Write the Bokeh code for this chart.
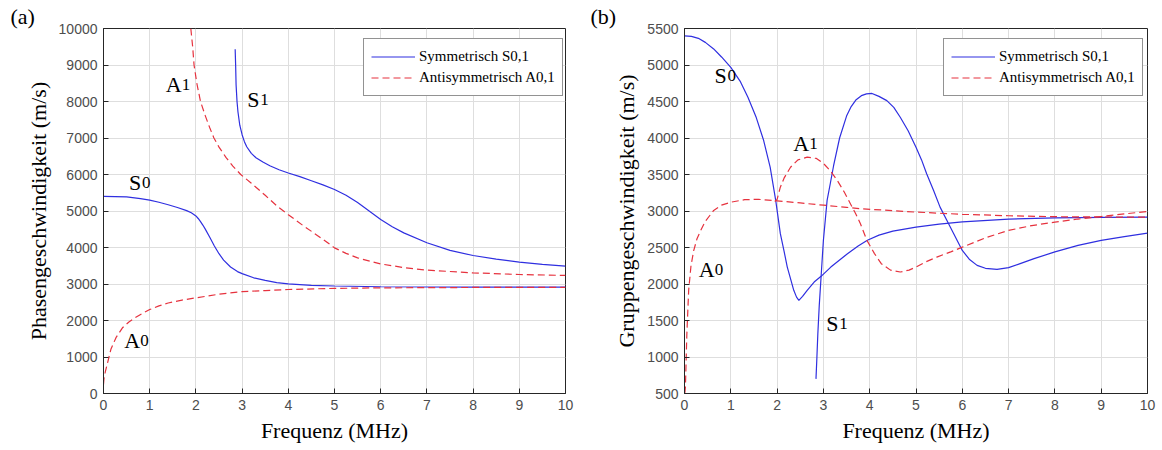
from bokeh.plotting import figure
from bokeh.layouts import row
from bokeh.models import (Range1d, FixedTicker, Legend, LegendItem,
                          ColumnDataSource, Title)
from bokeh.core.properties import value
from bokeh.embed import file_html
from bokeh.resources import INLINE

# ---------------- data ----------------
freq_ticks = [0, 1, 2, 3, 4, 5, 6, 7, 8, 9, 10]
phase_ticks = [0, 1000, 2000, 3000, 4000, 5000, 6000, 7000, 8000, 9000, 10000]
group_ticks = [500, 1000, 1500, 2000, 2500, 3000, 3500, 4000, 4500, 5000, 5500]

# (a) Phasengeschwindigkeit
s0_phase_f = [0, 0.5, 0.8, 1.0, 1.2, 1.4, 1.6, 1.8, 1.9, 2.0, 2.05, 2.1, 2.15, 2.2, 2.3, 2.4, 2.5,
              2.6, 2.75, 2.9, 3.0, 3.25, 3.5, 3.75, 4.0, 4.5, 5.0, 6.0, 7.0, 8.0, 10.0]
s0_phase_v = [5400, 5385, 5340, 5300, 5240, 5170, 5095, 5010, 4950, 4865, 4795, 4710, 4615, 4510, 4280,
              4040, 3830, 3655, 3465, 3340, 3285, 3170, 3100, 3040, 3005, 2965, 2945, 2925, 2918, 2915, 2912]

a0_phase_f = [0, 0.01, 0.04, 0.08, 0.16, 0.27, 0.41, 0.55, 0.7, 0.85, 1.0, 1.2, 1.4, 1.7, 2.0,
              2.5, 3.0, 3.5, 4.0, 5.0, 6.0, 7.0, 8.0, 9.0, 10.0]
a0_phase_v = [250, 400, 600, 800, 1210, 1530, 1800, 1960, 2090, 2200, 2300, 2400, 2480, 2560, 2620,
              2720, 2790, 2820, 2850, 2880, 2895, 2900, 2905, 2905, 2905]

s1_phase_f = [2.85, 2.86, 2.87, 2.89, 2.91, 2.95, 3.0, 3.05, 3.1, 3.2, 3.3, 3.45, 3.6, 3.8, 4.0,
              4.25, 4.5, 4.75, 5.0, 5.25, 5.5, 5.75, 6.0, 6.25, 6.5, 7.0, 7.5, 8.0, 8.5, 9.0, 9.5, 10.0]
s1_phase_v = [9430, 9000, 8450, 8000, 7720, 7350, 7090, 6900, 6760, 6580, 6460, 6340, 6240, 6130, 6040,
              5940, 5830, 5715, 5590, 5430, 5230, 5000, 4770, 4570, 4400, 4130, 3920, 3780, 3680, 3600,
              3540, 3490]

a1_phase_f = [1.89, 1.93, 1.96, 2.02, 2.1, 2.2, 2.3, 2.39, 2.5, 2.65, 2.8, 2.97, 3.2, 3.5, 3.76,
              4.0, 4.3, 4.55, 4.8, 5.0, 5.25, 5.5, 6.0, 6.5, 7.0, 8.0, 9.0, 10.0]
a1_phase_v = [10000, 9500, 9000, 8500, 8000, 7620, 7280, 7000, 6750, 6470, 6230, 6000, 5760, 5430, 5130,
              4900, 4620, 4400, 4180, 3990, 3840, 3715, 3550, 3450, 3380, 3305, 3260, 3235]

# (b) Gruppengeschwindigkeit
s0_group_f = [0, 0.15, 0.3, 0.45, 0.63, 0.8, 1.0, 1.2, 1.37, 1.55, 1.71, 1.85, 1.97, 2.07, 2.15,
              2.22, 2.3, 2.36, 2.42, 2.47, 2.55, 2.65, 2.8, 2.95, 3.16, 3.35, 3.52, 3.75, 3.95,
              4.2, 4.5, 5.0, 5.5, 6.0, 7.0, 8.0, 9.0, 10.0]
s0_group_v = [5400, 5392, 5365, 5310, 5220, 5110, 4968, 4780, 4558, 4280, 3965, 3600, 3145, 2689, 2450,
              2232, 2050, 1913, 1820, 1776, 1830, 1913, 2027, 2105, 2232, 2330, 2415, 2520, 2600,
              2670, 2725, 2780, 2820, 2850, 2890, 2907, 2912, 2916]

s1_group_f = [2.84, 2.86, 2.88, 2.91, 2.95, 3.0, 3.08, 3.15, 3.22, 3.35, 3.5, 3.6, 3.7, 3.82, 3.93,
              4.05, 4.2, 4.37, 4.52, 4.66, 4.83, 5.0, 5.12, 5.23, 5.38, 5.52, 5.74, 6.0, 6.15, 6.32,
              6.5, 6.75, 7.0, 7.25, 7.55, 8.0, 8.5, 9.0, 9.5, 10.0]
s1_group_v = [700, 1000, 1320, 1700, 2100, 2600, 3145, 3380, 3620, 4000, 4300, 4430, 4520, 4580, 4605,
              4610, 4570, 4512, 4420, 4284, 4100, 3873, 3700, 3510, 3280, 3053, 2780, 2460, 2340, 2255,
              2215, 2200, 2224, 2280, 2347, 2440, 2530, 2597, 2650, 2697]

a0_group_f = [0, 0.01, 0.02, 0.05, 0.09, 0.14, 0.2, 0.27, 0.35, 0.45, 0.63, 0.8, 1.0, 1.3, 1.6,
              2.0, 2.5, 3.0, 3.5, 3.8, 4.5, 5.0, 6.0, 7.0, 8.0, 9.0, 10.0]
a0_group_v = [500, 520, 590, 1300, 1913, 2250, 2460, 2620, 2734, 2860, 3007, 3080, 3121, 3155, 3160,
              3140, 3110, 3080, 3050, 3031, 3005, 2985, 2955, 2935, 2922, 2918, 2916]

a1_group_f = [1.95, 2.0, 2.07, 2.15, 2.29, 2.45, 2.65, 2.85, 3.01, 3.15, 3.3, 3.45, 3.6, 3.7, 3.8,
              3.94, 4.1, 4.25, 4.45, 4.66, 4.85, 5.0, 5.2, 5.45, 5.75, 6.0, 6.54, 7.0, 7.5, 8.0,
              8.5, 9.0, 9.5, 10.0]
a1_group_v = [3130, 3160, 3326, 3450, 3600, 3700, 3737, 3720, 3646, 3550, 3418, 3260, 3080, 2960, 2825,
              2597, 2420, 2278, 2190, 2164, 2190, 2232, 2300, 2369, 2440, 2505, 2642, 2734, 2800, 2848,
              2890, 2925, 2960, 2994]

# mode labels (letter + index), positioned in data units
phase_lbl_letter = ["S", "A", "S", "A"]
phase_lbl_digit = ["0", "1", "1", "0"]
phase_lbl_f = [0.55, 1.35, 3.11, 0.45]
phase_lbl_v = [5593, 8270, 7855, 1257]

group_lbl_letter = ["S", "A", "S", "A"]
group_lbl_digit = ["0", "1", "1", "0"]
group_lbl_f = [0.65, 2.35, 3.06, 0.31]
group_lbl_v = [4763, 3828, 1366, 2105]

legend_sym = "Symmetrisch S0,1"
legend_anti = "Antisymmetrisch A0,1"

# ---------------- style ----------------
BLUE = "#2f2fe0"
RED = "#e6323e"
SERIF = "Liberation Serif"
SANS = "Liberation Sans"
AX = "#262626"
GRID = "#dedede"
LETTER_W = {"S": 13, "A": 16}


def style_axis(ax, ticks):
    ax.ticker = FixedTicker(ticks=ticks)
    ax.axis_line_color = AX
    ax.major_tick_line_color = AX
    ax.major_tick_in = 5
    ax.major_tick_out = 0
    ax.minor_tick_line_color = None
    ax.major_label_text_font = SANS
    ax.major_label_text_color = "#4d4d4d"
    ax.major_label_text_font_size = "14px"
    ax.major_label_standoff = 6
    ax.axis_label_text_font = SERIF
    ax.axis_label_text_font_style = "normal"
    ax.axis_label_text_font_size = "22px"
    ax.axis_label_text_color = "black"
    ax.axis_label_standoff = 5


def build(y0, y1, y_ticks, y_label, curves, lbl, panel_text, panel_offset,
          legend_xy, frame_w, frame_h, b_left, b_top):
    width = 581
    title = Title(text=panel_text, align="left", offset=panel_offset, standoff=0,
                  text_font=SERIF, text_font_size="22px", text_font_style="normal",
                  text_color="black")
    p = figure(width=width, height=450, title=title,
               x_range=Range1d(0, 10), y_range=Range1d(y0, y1),
               output_backend="svg", toolbar_location=None,
               min_border_left=b_left, min_border_right=width - b_left - frame_w,
               min_border_top=b_top, min_border_bottom=450 - b_top - frame_h)
    p.outline_line_color = AX
    p.outline_line_alpha = 1.0
    p.background_fill_color = "white"
    p.border_fill_color = "white"

    style_axis(p.xaxis[0], freq_ticks)
    style_axis(p.yaxis[0], y_ticks)
    p.xaxis[0].axis_label = "Frequenz (MHz)"
    p.yaxis[0].axis_label = y_label

    p.xgrid.ticker = FixedTicker(ticks=freq_ticks)
    p.ygrid.ticker = FixedTicker(ticks=y_ticks)
    p.xgrid.grid_line_color = GRID
    p.ygrid.grid_line_color = GRID

    rend = {}
    for f, v, kind in curves:
        if kind == "S":
            r = p.line(f, v, line_color=BLUE, line_width=1.2)
        else:
            r = p.line(f, v, line_color=RED, line_width=1.2, line_dash="7 4")
        rend.setdefault(kind, r)

    letters, digits, lx, ly = lbl
    src = ColumnDataSource(dict(x=lx, y=ly, letter=letters, digit=digits,
                                dx=[LETTER_W[c] for c in letters]))
    p.text(x="x", y="y", text="letter", source=src, text_font=value(SERIF),
           text_font_size="22px", text_color="black", text_baseline="alphabetic",
           text_align="left", y_offset=-7)
    p.text(x="x", y="y", text="digit", x_offset="dx", source=src, text_font=value(SERIF),
           text_font_size="17px", text_color="black", text_baseline="alphabetic",
           text_align="left", y_offset=-7)

    legend = Legend(items=[LegendItem(label=legend_sym, renderers=[rend["S"]]),
                           LegendItem(label=legend_anti, renderers=[rend["A"]])],
                    location=legend_xy)
    legend.label_text_font = SERIF
    legend.label_text_font_size = "15px"
    legend.label_text_color = "black"
    legend.glyph_width = 44
    legend.glyph_height = 21
    legend.label_height = 21
    legend.label_standoff = 4
    legend.padding = 7
    legend.spacing = 0
    legend.margin = 0
    legend.border_line_color = AX
    legend.border_line_width = 1
    legend.background_fill_alpha = 1.0
    p.add_layout(legend)
    return p


p1 = build(0, 10000, phase_ticks, "Phasengeschwindigkeit (m/s)",
           [(s0_phase_f, s0_phase_v, "S"), (s1_phase_f, s1_phase_v, "S"),
            (a0_phase_f, a0_phase_v, "A"), (a1_phase_f, a1_phase_v, "A")],
           (phase_lbl_letter, phase_lbl_digit, phase_lbl_f, phase_lbl_v),
           "(a)", -93, (260, 297), 462, 366, 103, 27)

p2 = build(500, 5500, group_ticks, "Gruppengeschwindigkeit (m/s)",
           [(s0_group_f, s0_group_v, "S"), (s1_group_f, s1_group_v, "S"),
            (a0_group_f, a0_group_v, "A"), (a1_group_f, a1_group_v, "A")],
           (group_lbl_letter, group_lbl_digit, group_lbl_f, group_lbl_v),
           "(b)", -94, (259, 297), 463, 365, 103, 28)

layout = row(p1, p2)
open("out.html", "w").write(file_html(layout, INLINE))
